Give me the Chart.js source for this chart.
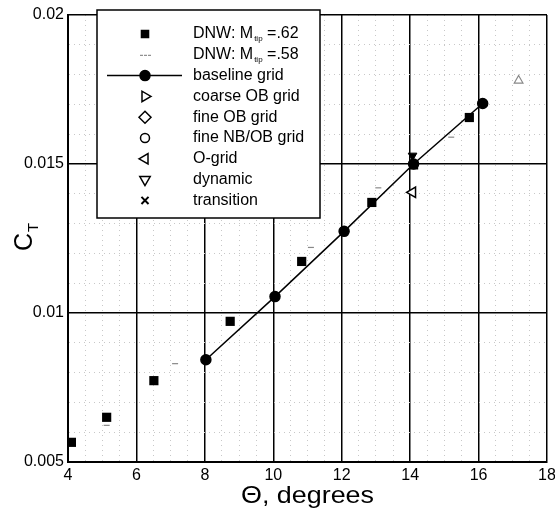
<!DOCTYPE html>
<html>
<head>
<meta charset="utf-8">
<script src="https://cdn.jsdelivr.net/npm/chart.js@4.4.1/dist/chart.umd.min.js"></script>
<style>
  body { margin: 0; background: #fff; }
  #wrap { width: 555px; height: 509px; position: relative; }
</style>
</head>
<body>
<div id="wrap"><canvas id="myChart"></canvas></div>
<script>
// values
const thetaDnw62 = [4.1, 5.13, 6.51, 8.74, 10.83, 12.88, 14.1, 15.73];
const ctDnw62 = [0.00566, 0.0065, 0.00773, 0.00972, 0.01173, 0.01371, 0.01497, 0.01656];
const thetaDnw58 = [5.13, 7.13, 11.1, 13.07, 15.2, 17.17];
const ctDnw58 = [0.00623, 0.0083, 0.0122, 0.0142, 0.0159, 0.0178];
const thetaBase = [8.03, 10.05, 12.07, 14.1, 16.12];
const ctBase = [0.00843, 0.01055, 0.01274, 0.0150, 0.01703];
const thetaCoarse = [14.1], ctCoarse = [0.0150];
const thetaFineOB = [14.1], ctFineOB = [0.0150];
const thetaFineNB = [14.1], ctFineNB = [0.0150];
const thetaOgrid = [14.07], ctOgrid = [0.01405];
const thetaDynamic = [14.07], ctDynamic = [0.01528];
const thetaTransition = [14.1], ctTransition = [0.0150];

const xTicks = [4, 6, 8, 10, 12, 14, 16, 18];
const yTicks = ['0.005', '0.01', '0.015', '0.02'];

const pts = (xs, ys) => xs.map((x, i) => ({ x: x, y: ys[i] }));
const FONT = "'Liberation Sans', Arial, Helvetica, sans-serif";

const legendItems = [
  { text: 'DNW: M', sub: 'tip', after: ' =.62', style: 'rect', r: 5, fill: '#000' },
  { text: 'DNW: M', sub: 'tip', after: ' =.58', style: 'dash' },
  { text: 'baseline grid', style: 'circle', r: 5, fill: '#000', line: true },
  { text: 'coarse OB grid', style: 'triangle', rot: 90, r: 6, fill: '#fff' },
  { text: 'fine OB grid', style: 'rectRot', r: 6, fill: '#fff' },
  { text: 'fine NB/OB grid', style: 'circle', r: 4.5, fill: '#fff' },
  { text: 'O-grid', style: 'triangle', rot: -90, r: 6, fill: '#fff' },
  { text: 'dynamic', style: 'triangle', rot: 180, r: 6, fill: '#fff' },
  { text: 'transition', style: 'crossRot', r: 5, fill: '#000' }
];

const decorPlugin = {
  id: 'decor',
  afterDraw(chart) {
    const ctx = chart.ctx;
    const area = chart.chartArea;
    ctx.save();
    // legend box
    const bx = 97, by = 10, bw = 223, bh = 208;
    ctx.fillStyle = '#fff';
    ctx.fillRect(bx, by, bw, bh);
    ctx.strokeStyle = '#000';
    ctx.lineWidth = 1.5;
    ctx.strokeRect(bx, by, bw, bh);
    legendItems.forEach((it, i) => {
      const y = 34 + i * 20.8;
      const mx = 145;
      ctx.strokeStyle = '#000';
      ctx.fillStyle = it.fill || '#000';
      ctx.lineWidth = 1.5;
      if (it.line) {
        ctx.beginPath();
        ctx.moveTo(107, y);
        ctx.lineTo(182, y);
        ctx.stroke();
      }
      if (it.style === 'dash') {
        ctx.fillStyle = '#777';
        ctx.fillRect(mx - 5, y, 3, 1);
        ctx.fillRect(mx - 1, y, 3, 1);
        ctx.fillRect(mx + 3, y, 3, 1);
      } else {
        ctx.fillStyle = it.fill;
        ctx.lineWidth = it.style === 'crossRot' ? 2 : 1.5;
        Chart.helpers.drawPoint(ctx, { pointStyle: it.style, radius: it.r, rotation: it.rot || 0, borderWidth: ctx.lineWidth }, mx, y);
      }
      ctx.fillStyle = '#000';
      ctx.font = '16px ' + FONT;
      ctx.textBaseline = 'middle';
      ctx.textAlign = 'left';
      ctx.fillText(it.text, 193, y);
      if (it.sub) {
        let x = 193 + ctx.measureText(it.text).width + 1;
        ctx.font = '8px ' + FONT;
        ctx.fillText(it.sub, x, y + 5);
        x += ctx.measureText(it.sub).width;
        ctx.font = '16px ' + FONT;
        ctx.fillText(it.after, x, y);
      }
    });
    // y title C_T
    ctx.save();
    ctx.translate(32, 237);
    ctx.rotate(-Math.PI / 2);
    ctx.fillStyle = '#000';
    ctx.textBaseline = 'alphabetic';
    ctx.textAlign = 'left';
    ctx.font = '25px ' + FONT;
    const cw = ctx.measureText('C').width;
    ctx.fillText('C', -cw / 2 - 5, 0);
    ctx.font = '15px ' + FONT;
    ctx.fillText('T', cw / 2 - 4, 6);
    ctx.restore();
    // x title
    ctx.save();
    ctx.fillStyle = '#000';
    ctx.font = '24px ' + FONT;
    ctx.textAlign = 'center';
    ctx.textBaseline = 'alphabetic';
    ctx.translate((area.left + area.right) / 2, 503);
    ctx.scale(1.12, 1);
    ctx.fillText('\u0398, degrees', 0, 0);
    ctx.restore();
    ctx.restore();
  }
};

const isMajorX = v => Math.abs(v / 2 - Math.round(v / 2)) < 1e-6;
const isMajorY = v => Math.round(v * 1000) % 5 === 0;

const ctx = document.getElementById('myChart').getContext('2d');
const myChart = new Chart(ctx, {
  type: 'scatter',
  data: {
    datasets: [
      {
        label: 'baseline grid',
        data: pts(thetaBase, ctBase),
        showLine: true,
        borderColor: '#000',
        borderWidth: 1.5,
        pointRadius: 5,
        pointBackgroundColor: '#000',
        pointBorderColor: '#000',
        order: 1
      },
      {
        label: 'dynamic',
        data: pts(thetaDynamic, ctDynamic),
        pointStyle: 'triangle',
        rotation: 180,
        pointRadius: 5,
        pointBackgroundColor: '#000',
        pointBorderColor: '#000',
        order: 0
      },
      {
        label: 'DNW: Mtip =.62',
        data: pts(thetaDnw62, ctDnw62),
        pointStyle: 'rect',
        pointRadius: 6.5,
        pointBackgroundColor: '#000',
        pointBorderColor: '#000',
        borderWidth: 0,
        order: 2
      },
      {
        label: 'DNW: Mtip =.58',
        data: pts(thetaDnw58, ctDnw58),
        pointStyle: c => (c.raw && c.raw.x > 17 ? 'triangle' : 'line'),
        pointRadius: c => (c.raw && c.raw.x > 17 ? 5 : 3),
        pointBackgroundColor: '#fff',
        pointBorderColor: '#888',
        pointBorderWidth: 1.2,
        order: 3
      },
      {
        label: 'coarse OB grid',
        data: pts(thetaCoarse, ctCoarse),
        pointStyle: 'triangle', rotation: 90, pointRadius: 5,
        pointBackgroundColor: '#fff', pointBorderColor: '#000', order: 4
      },
      {
        label: 'fine OB grid',
        data: pts(thetaFineOB, ctFineOB),
        pointStyle: 'rectRot', pointRadius: 5,
        pointBackgroundColor: '#fff', pointBorderColor: '#000', order: 4
      },
      {
        label: 'fine NB/OB grid',
        data: pts(thetaFineNB, ctFineNB),
        pointStyle: 'circle', pointRadius: 4,
        pointBackgroundColor: '#fff', pointBorderColor: '#000', order: 4
      },
      {
        label: 'O-grid',
        data: pts(thetaOgrid, ctOgrid),
        pointStyle: 'triangle', rotation: -90, pointRadius: 6,
        pointBackgroundColor: '#fff', pointBorderColor: '#000', pointBorderWidth: 1.5, order: 1
      },
      {
        label: 'transition',
        data: pts(thetaTransition, ctTransition),
        pointStyle: 'crossRot', pointRadius: 4,
        pointBorderColor: '#000', order: 4
      }
    ]
  },
  options: {
    responsive: true,
    maintainAspectRatio: false,
    animation: false,
    layout: { padding: { top: 15, right: 0, left: 0, bottom: 0 } },
    plugins: {
      legend: { display: false },
      tooltip: { enabled: false }
    },
    scales: {
      x: {
        type: 'linear',
        min: 4,
        max: 18,
        afterFit: s => { s.height = 47; s.paddingRight = 8; s.paddingLeft = 0; },
        ticks: {
          stepSize: 0.5,
          autoSkip: false,
          maxRotation: 0,
          padding: 4,
          color: '#000',
          font: { family: FONT, size: 16 },
          callback: v => (isMajorX(v) && xTicks.includes(Math.round(v)) ? String(Math.round(v)) : '')
        },
        grid: {
          drawTicks: false,
          color: c => (c.tick && isMajorX(c.tick.value) ? '#000' : '#c8c8c8'),
          lineWidth: c => (c.tick && isMajorX(c.tick.value) ? 1.5 : 1)
        },
        border: {
          color: '#000',
          width: 2,
          dash: c => (c.tick && !isMajorX(c.tick.value) ? [1, 4] : [])
        }
      },
      y: {
        type: 'linear',
        min: 0.005,
        max: 0.02,
        afterFit: s => { s.width = 68; },
        ticks: {
          stepSize: 0.001,
          autoSkip: false,
          padding: 4,
          color: '#000',
          font: { family: FONT, size: 16 },
          callback: v => {
            const k = Math.round(v * 1000);
            const lbl = String(k / 1000);
            return k % 5 === 0 && yTicks.includes(lbl) ? lbl : '';
          }
        },
        grid: {
          drawTicks: false,
          color: c => (c.tick && isMajorY(c.tick.value) ? '#000' : '#c8c8c8'),
          lineWidth: c => (c.tick && isMajorY(c.tick.value) ? 1.5 : 1)
        },
        border: {
          color: '#000',
          width: 2,
          dash: c => (c.tick && !isMajorY(c.tick.value) ? [1, 4] : [])
        }
      }
    }
  },
  plugins: [decorPlugin]
});
</script>
</body>
</html>
